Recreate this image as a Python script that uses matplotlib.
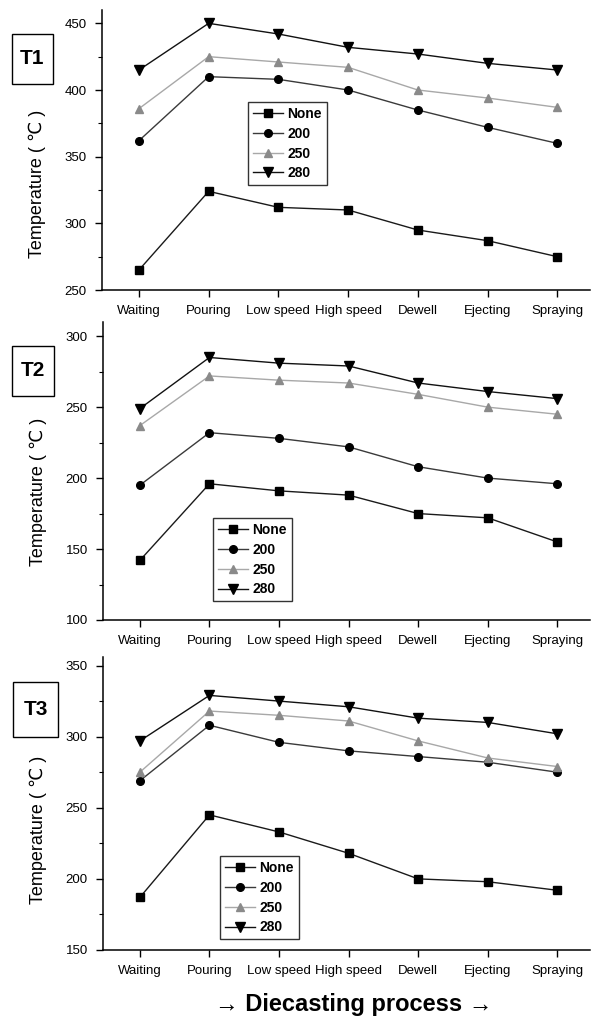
import numpy as np
import matplotlib
matplotlib.use("Agg")
import matplotlib.pyplot as plt
from matplotlib.patches import Rectangle

plt.rcParams['font.family'] = ['Liberation Sans', 'DejaVu Sans']

# Data
stages = ['Waiting', 'Pouring', 'Low speed', 'High speed', 'Dewell', 'Ejecting', 'Spraying']
series_names = ['None', '200', '250', '280']

t1_none = [265, 324, 312, 310, 295, 287, 275]
t1_200 = [362, 410, 408, 400, 385, 372, 360]
t1_250 = [386, 425, 421, 417, 400, 394, 387]
t1_280 = [415, 450, 442, 432, 427, 420, 415]

t2_none = [142, 196, 191, 188, 175, 172, 155]
t2_200 = [195, 232, 228, 222, 208, 200, 196]
t2_250 = [237, 272, 269, 267, 259, 250, 245]
t2_280 = [249, 285, 281, 279, 267, 261, 256]

t3_none = [187, 245, 233, 218, 200, 198, 192]
t3_200 = [269, 308, 296, 290, 286, 282, 275]
t3_250 = [275, 318, 315, 311, 297, 285, 279]
t3_280 = [297, 329, 325, 321, 313, 310, 302]

panel_titles = ['T1', 'T2', 'T3']
y_ranges = [(250, 460), (100, 310), (150, 356)]
y_ticks = [np.arange(250, 451, 50), np.arange(100, 301, 50), np.arange(150, 351, 50)]

# series styles: line colour, marker, marker colour, marker size
styles = [
    ('#1a1a1a', 's', 'black', 5.3),
    ('#3a3a3a', 'o', 'black', 5.5),
    ('#a8a8a8', '^', '#8a8a8a', 6),
    ('#111111', 'v', 'black', 7),
]

W, H = 596, 1018
fig = plt.figure(figsize=(W / 100, H / 100), dpi=100)

# axes boxes in pixels: (left, top, right, bottom)
boxes = [(102, 10, 590, 290), (103, 322, 590, 620), (103, 657, 590, 950)]
legend_pos = [(248, 102), (213, 518), (220, 856)]
tbox = [(12, 34, 53, 84), (12, 346, 54, 396), (13, 682, 58, 737)]
label_y = [0.38, 0.43, 0.41]

data = [
    [t1_none, t1_200, t1_250, t1_280],
    [t2_none, t2_200, t2_250, t2_280],
    [t3_none, t3_200, t3_250, t3_280],
]

x = np.arange(len(stages))
for i in range(3):
    l, t, r, b = boxes[i]
    ax = fig.add_axes([l / W, 1 - b / H, (r - l) / W, (b - t) / H])
    for vals, name, (lc, mk, mc, ms) in zip(data[i], series_names, styles):
        ax.plot(x, vals, color=lc, lw=1.0, marker=mk, markersize=ms,
                markerfacecolor=mc, markeredgecolor=mc, label=name)
    ax.set_xlim(-0.53, 6.47)
    ax.set_ylim(*y_ranges[i])
    ax.set_yticks(y_ticks[i])
    ax.set_yticks(y_ticks[i][:-1] + 25, minor=True)
    ax.set_xticks(x)
    ax.set_xticklabels(stages)
    ax.spines['top'].set_visible(False)
    ax.spines['right'].set_visible(False)
    ax.spines['left'].set_linewidth(1.1)
    ax.spines['bottom'].set_linewidth(1.1)
    ax.tick_params(axis='both', which='major', direction='out', length=5, width=1,
                   labelsize=9.5, pad=6)
    ax.tick_params(axis='y', which='minor', direction='out', length=3, width=0.8)
    ax.set_ylabel('Temperature ( ℃ )', fontsize=13)
    ax.yaxis.set_label_coords(-0.115, label_y[i])

    lx, ly = legend_pos[i]
    leg = ax.legend(loc='upper left', bbox_to_anchor=(lx / W, 1 - ly / H),
                    bbox_transform=fig.transFigure, borderaxespad=0,
                    prop={'weight': 'bold', 'size': 10}, frameon=True, fancybox=False,
                    handlelength=2.2, handletextpad=0.3, labelspacing=0.42,
                    borderpad=0.35, numpoints=1)
    leg.get_frame().set_edgecolor('black')
    leg.get_frame().set_linewidth(1.0)

    x0, y0, x1, y1 = tbox[i]
    fig.add_artist(Rectangle((x0 / W, 1 - y1 / H), (x1 - x0) / W, (y1 - y0) / H,
                             transform=fig.transFigure, fill=False,
                             edgecolor='black', lw=1.0))
    fig.text((x0 + x1) / 2 / W, 1 - (y0 + y1) / 2 / H, panel_titles[i],
             ha='center', va='center', fontsize=15, fontweight='bold')

fig.text(354 / W, 1 - 1005 / H, '→ Diecasting process →', ha='center', va='center',
         fontsize=17, fontweight='bold')

fig.savefig('out.png', dpi=100)
